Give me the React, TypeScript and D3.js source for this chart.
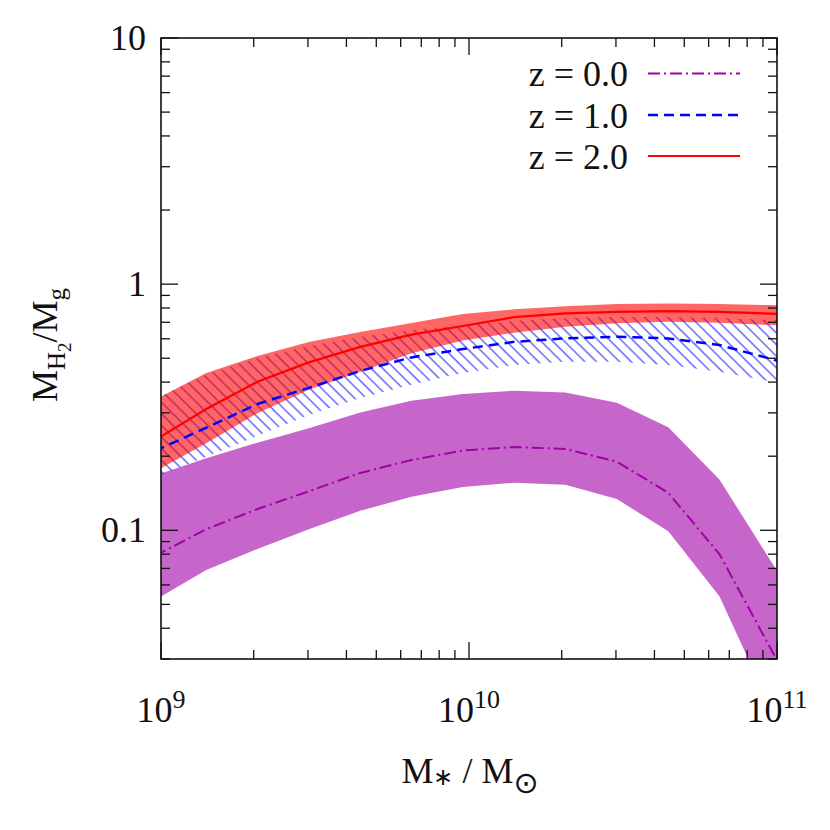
import React from 'react';
import * as d3 from 'd3';

// log10 of stellar mass at each sample point
const logMass = [8.98, 9.147, 9.313, 9.48, 9.647, 9.813, 9.98, 10.147, 10.313, 10.48, 10.647, 10.813, 10.98, 11.147];

// z = 0.0
const z0Mid = [0.0787, 0.101, 0.122, 0.144, 0.171, 0.193, 0.211, 0.218, 0.214, 0.19, 0.142, 0.08, 0.033, 0.013];
const z0Lo = [0.052, 0.069, 0.084, 0.101, 0.12, 0.137, 0.15, 0.156, 0.153, 0.134, 0.099, 0.054, 0.019, 0.0064];
const z0Hi = [0.167, 0.196, 0.227, 0.26, 0.301, 0.336, 0.358, 0.369, 0.363, 0.33, 0.262, 0.161, 0.075, 0.035];

// z = 1.0
const z1Mid = [0.21, 0.261, 0.326, 0.379, 0.444, 0.504, 0.545, 0.583, 0.602, 0.611, 0.602, 0.566, 0.497, 0.428];
const z1Lo = [0.164, 0.199, 0.242, 0.294, 0.345, 0.39, 0.436, 0.469, 0.484, 0.484, 0.469, 0.441, 0.402, 0.355];
const z1Hi = [0.342, 0.428, 0.501, 0.561, 0.61, 0.651, 0.682, 0.708, 0.728, 0.735, 0.735, 0.728, 0.715, 0.695];

// z = 2.0
const z2Mid = [0.232, 0.311, 0.401, 0.481, 0.556, 0.624, 0.676, 0.735, 0.761, 0.772, 0.777, 0.772, 0.759, 0.742];
const z2Lo = [0.173, 0.226, 0.299, 0.372, 0.441, 0.524, 0.59, 0.635, 0.671, 0.693, 0.703, 0.697, 0.682, 0.669];
const z2Hi = [0.339, 0.436, 0.511, 0.582, 0.639, 0.695, 0.756, 0.79, 0.814, 0.83, 0.835, 0.83, 0.822, 0.814];

const legendLabels = ['z = 0.0', 'z = 1.0', 'z = 2.0'];
const xMajor = [1e9, 1e10, 1e11];
const xExponents = ['9', '10', '11'];
const yMajor = [0.1, 1, 10];
const yMajorLabels = ['0.1', '1', '10'];

const PURPLE = '#a000a8';
const BLUE = '#0000ff';
const RED = '#ff0000';
const FONT = '"Liberation Serif", "Times New Roman", serif';

const box = { left: 161, right: 777, top: 38, bottom: 659 };

export default function App() {
  const x = d3.scaleLog().domain([1e9, 1e11]).range([box.left, box.right]);
  const y = d3.scaleLog().domain([0.03, 10]).range([box.bottom, box.top]);
  const mass = logMass.map(v => Math.pow(10, v));

  const band = (lo: number[], hi: number[]) =>
    d3.area<number>()
      .x(d => x(d))
      .y0((_, i) => y(lo[i]))
      .y1((_, i) => y(hi[i]))(mass) || '';
  const line = (vals: number[]) =>
    d3.line<number>()
      .x((_, i) => x(mass[i]))
      .y(d => y(d))(vals) || '';

  // minor ticks
  const xMinor: number[] = [];
  [1e9, 1e10].forEach(d => { for (let k = 2; k <= 9; k++) xMinor.push(d * k); });
  const yMinor: number[] = [];
  [0.01, 0.1, 1].forEach(d => { for (let k = 2; k <= 9; k++) { const v = d * k; if (v >= 0.03 && v < 10) yMinor.push(v); } });

  const major = 17, minor = 9;

  const legendY = [73.5, 115, 156];
  const legendStyles = [
    { color: PURPLE, dash: '12,4,2,4', width: 2 },
    { color: BLUE, dash: '10,6', width: 2.5 },
    { color: RED, dash: 'none', width: 2.2 },
  ];

  return (
    <svg width={830} height={830} style={{ position: 'absolute', left: 0, top: 0, background: '#fff' }} fontFamily={FONT}>
      <defs>
        <clipPath id="plotClip">
          <rect x={box.left} y={box.top} width={box.right - box.left} height={box.bottom - box.top} />
        </clipPath>
        <pattern id="hatch" width={8.2} height={20} patternUnits="userSpaceOnUse" patternTransform="rotate(-45)">
          <line x1={2} y1={0} x2={2} y2={20} stroke={BLUE} strokeWidth={1.5} strokeOpacity={0.6} />
        </pattern>
      </defs>

      <g clipPath="url(#plotClip)">
        <path d={band(z0Lo, z0Hi)} fill={PURPLE} fillOpacity={0.6} />
        <path d={band(z1Lo, z1Hi)} fill="url(#hatch)" />
        <path d={band(z2Lo, z2Hi)} fill={RED} fillOpacity={0.6} />
        <path d={line(z0Mid)} fill="none" stroke={PURPLE} strokeWidth={2} strokeDasharray="12,4,2,4" />
        <path d={line(z1Mid)} fill="none" stroke={BLUE} strokeWidth={2.5} strokeDasharray="10,6" />
        <path d={line(z2Mid)} fill="none" stroke={RED} strokeWidth={2.2} />
      </g>

      {/* frame */}
      <rect x={box.left} y={box.top} width={box.right - box.left} height={box.bottom - box.top} fill="none" stroke="#111" strokeWidth={1.6} />

      {/* x ticks */}
      {xMajor.map(v => (
        <g key={'xM' + v}>
          <line x1={x(v)} x2={x(v)} y1={box.bottom} y2={box.bottom - major} stroke="#111" strokeWidth={1.3} />
          <line x1={x(v)} x2={x(v)} y1={box.top} y2={box.top + major} stroke="#111" strokeWidth={1.3} />
        </g>
      ))}
      {xMinor.map(v => (
        <g key={'xm' + v}>
          <line x1={x(v)} x2={x(v)} y1={box.bottom} y2={box.bottom - minor} stroke="#111" strokeWidth={1.3} />
          <line x1={x(v)} x2={x(v)} y1={box.top} y2={box.top + minor} stroke="#111" strokeWidth={1.3} />
        </g>
      ))}
      {/* y ticks */}
      {yMajor.map(v => (
        <g key={'yM' + v}>
          <line x1={box.left} x2={box.left + major} y1={y(v)} y2={y(v)} stroke="#111" strokeWidth={1.3} />
          <line x1={box.right} x2={box.right - major} y1={y(v)} y2={y(v)} stroke="#111" strokeWidth={1.3} />
        </g>
      ))}
      {yMinor.map(v => (
        <g key={'ym' + v}>
          <line x1={box.left} x2={box.left + minor} y1={y(v)} y2={y(v)} stroke="#111" strokeWidth={1.3} />
          <line x1={box.right} x2={box.right - minor} y1={y(v)} y2={y(v)} stroke="#111" strokeWidth={1.3} />
        </g>
      ))}

      {/* tick labels */}
      {yMajor.map((v, i) => (
        <text key={'yl' + v} x={146} y={y(v) + 12} textAnchor="end" fontSize={36} fill="#111">{yMajorLabels[i]}</text>
      ))}
      {xMajor.map((v, i) => (
        <text key={'xl' + v} x={x(v)} y={722} textAnchor="middle" fontSize={36} fill="#111">
          10<tspan fontSize={26} dy={-14}>{xExponents[i]}</tspan>
        </text>
      ))}

      {/* axis titles */}
      <text x={470} y={783} textAnchor="middle" fontSize={36} fill="#111">
        M<tspan fontSize={24} dy={2}>∗</tspan><tspan dy={-2}> / M</tspan><tspan fontSize={30} dy={10} fontFamily="DejaVu Sans">⊙</tspan>
      </text>
      <text transform="translate(57,345) rotate(-90)" textAnchor="middle" fontSize={36} fill="#111">
        M<tspan fontSize={25} dy={8}>H</tspan><tspan fontSize={19} dy={6}>2</tspan><tspan dy={-14}>/M</tspan><tspan fontSize={25} dy={8}>g</tspan>
      </text>

      {/* legend */}
      {legendLabels.map((lab, i) => (
        <g key={lab}>
          <text x={628} y={legendY[i] + 12.5} textAnchor="end" fontSize={36} fill="#111">{lab}</text>
          <line x1={648} x2={740} y1={legendY[i]} y2={legendY[i]} stroke={legendStyles[i].color}
            strokeWidth={legendStyles[i].width} strokeDasharray={legendStyles[i].dash} />
        </g>
      ))}
    </svg>
  );
}
